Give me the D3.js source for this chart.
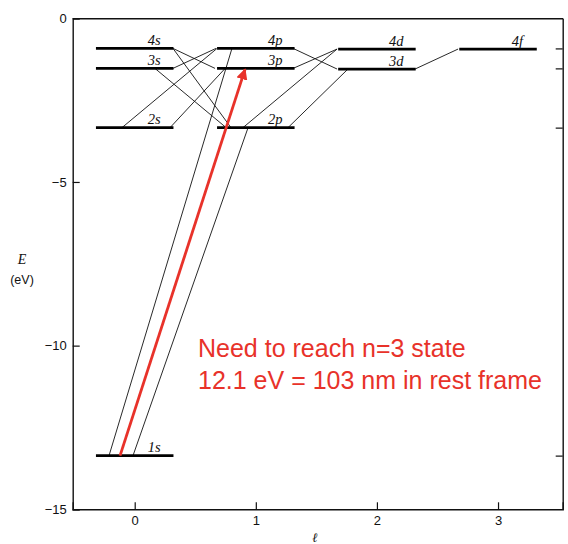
<!DOCTYPE html>
<html><head><meta charset="utf-8">
<script src="https://cdn.jsdelivr.net/npm/d3@7"></script>
<style>
html,body{margin:0;padding:0;background:#fff;}
svg{display:block;}
</style></head>
<body>
<svg id="chart" width="568" height="544"></svg>
<script>
// ---- data ----
const levelNames = ["1s","2s","3s","4s","2p","3p","4p","3d","4d","4f"];
const levelL     = [0, 0, 0, 0, 1, 1, 1, 2, 2, 3];
const levelE     = [-13.36, -3.34, -1.53, -0.92, -3.34, -1.53, -0.92, -1.55, -0.94, -0.94];
const levelHalfWidth = 0.32;

// transitions: [from level, from ℓ position, to level, to ℓ position]
const transFrom  = ["1s","1s","2s","2s","3s","3s","4s","4s","2p","2p","3p","4p","3d"];
const transFromL = [-0.212,-0.014,-0.105,0.292,0.316,0.167,0.316,0.316,0.894,1.266,1.308,1.308,2.315];
const transTo    = ["4p","2p","4p","3p","4p","2p","3p","2p","4d","3d","4d","3d","4f"];
const transToL   = [0.803,0.936,0.68,0.747,0.671,0.755,0.663,0.795,1.671,1.761,1.671,1.671,2.67];

const arrowFrom = "1s", arrowFromL = -0.121, arrowTo = "3p", arrowToL = 0.911;

const yTicks = [0, -5, -10, -15];
const xTicks = [0, 1, 2, 3];
const rightTicks = [-0.92, -1.53, -3.34, -13.36];

const annotation = ["Need to reach n=3 state", "12.1 eV = 103 nm in rest frame"];

// ---- layout ----
const svg = d3.select("#chart");
const mLeft = 72.7, mRight = 562.7, mTop = 18.3, mBottom = 509.3;
const x = d3.scaleLinear().domain([-0.512, 3.534]).range([mLeft, mRight]);
const y = d3.scaleLinear().domain([-15, 0]).range([mBottom, mTop]);
const E = name => levelE[levelNames.indexOf(name)];
const minus = v => (v < 0 ? "\u2212" + Math.abs(v) : String(v));

// frame
const axisColor = "#111";
const gL = svg.append("g").attr("transform", `translate(${mLeft},0)`)
  .call(d3.axisLeft(y).tickValues(yTicks).tickSize(-7).tickPadding(6).tickFormat(minus));
const gB = svg.append("g").attr("transform", `translate(0,${mBottom})`)
  .call(d3.axisBottom(x).tickValues(xTicks).tickSize(-7).tickPadding(6).tickFormat(d3.format("d")));
const gT = svg.append("g").attr("transform", `translate(0,${mTop})`)
  .call(d3.axisTop(x).tickValues([]).tickSizeOuter(0));
const gR = svg.append("g").attr("transform", `translate(${mRight},0)`)
  .call(d3.axisRight(y).tickValues(rightTicks).tickSize(-7).tickSizeOuter(0).tickFormat(""));
[gL,gB,gT,gR].forEach(g => {
  g.selectAll("path.domain").attr("stroke", axisColor).attr("stroke-width", 1.4);
  g.selectAll(".tick line").attr("stroke", axisColor).attr("stroke-width", 1.2);
  g.selectAll(".tick text").attr("fill", "#111")
    .style("font-family", "'Liberation Sans', Arial, sans-serif").style("font-size", "13px");
});

// transitions
const tData = transFrom.map((f, i) => ({f, fl: transFromL[i], t: transTo[i], tl: transToL[i]}));
svg.append("g").selectAll("line").data(tData).join("line")
  .attr("x1", d => x(d.fl)).attr("y1", d => y(E(d.f)))
  .attr("x2", d => x(d.tl)).attr("y2", d => y(E(d.t)))
  .attr("stroke", "#111").attr("stroke-width", 0.9);

// levels
const lvData = levelNames.map((n, i) => ({n, l: levelL[i], e: levelE[i]}));
svg.append("g").selectAll("line").data(lvData).join("line")
  .attr("x1", d => x(d.l - levelHalfWidth)).attr("x2", d => x(d.l + levelHalfWidth))
  .attr("y1", d => y(d.e)).attr("y2", d => y(d.e))
  .attr("stroke", "#000").attr("stroke-width", 2.8);
svg.append("g").selectAll("text").data(lvData).join("text")
  .attr("x", d => x(d.l + 0.16)).attr("y", d => y(d.e) - 3.5)
  .attr("text-anchor", "middle")
  .style("font-family", "'Liberation Serif', 'DejaVu Serif', serif")
  .style("font-style", "italic").style("font-size", "14.5px").attr("fill", "#111")
  .text(d => d.n);

// red arrow
const red = "#e8322a";
svg.append("defs").append("marker").attr("id", "ah")
  .attr("viewBox", "0 0 10 10").attr("refX", 9).attr("refY", 5)
  .attr("markerWidth", 4).attr("markerHeight", 4).attr("markerUnits", "strokeWidth")
  .attr("orient", "auto")
  .append("path").attr("d", "M0,0 L10,5 L0,10 z").attr("fill", red);
svg.append("line")
  .attr("x1", x(arrowFromL)).attr("y1", y(E(arrowFrom)))
  .attr("x2", x(arrowToL)).attr("y2", y(E(arrowTo)) + 1)
  .attr("stroke", red).attr("stroke-width", 2.8).attr("marker-end", "url(#ah)");

// axis labels
svg.append("text").attr("x", 22).attr("y", 264).attr("text-anchor", "middle")
  .style("font-family", "'Liberation Serif', serif").style("font-style", "italic")
  .style("font-size", "14px").attr("fill", "#111").text("E");
svg.append("text").attr("x", 22).attr("y", 284).attr("text-anchor", "middle")
  .style("font-family", "'Liberation Sans', Arial, sans-serif")
  .style("font-size", "12.5px").attr("fill", "#111").text("(eV)");
svg.append("text").attr("x", 315).attr("y", 542).attr("text-anchor", "middle")
  .style("font-family", "'Liberation Serif', serif").style("font-style", "italic")
  .style("font-size", "13px").attr("fill", "#111").text("\u2113");

// annotation
svg.append("g").selectAll("text").data(annotation).join("text")
  .attr("x", 198).attr("y", (d, i) => 357 + i * 32)
  .style("font-family", "'Liberation Sans', Arial, sans-serif")
  .style("font-size", "25px").attr("fill", red).text(d => d);
</script>
</body></html>
